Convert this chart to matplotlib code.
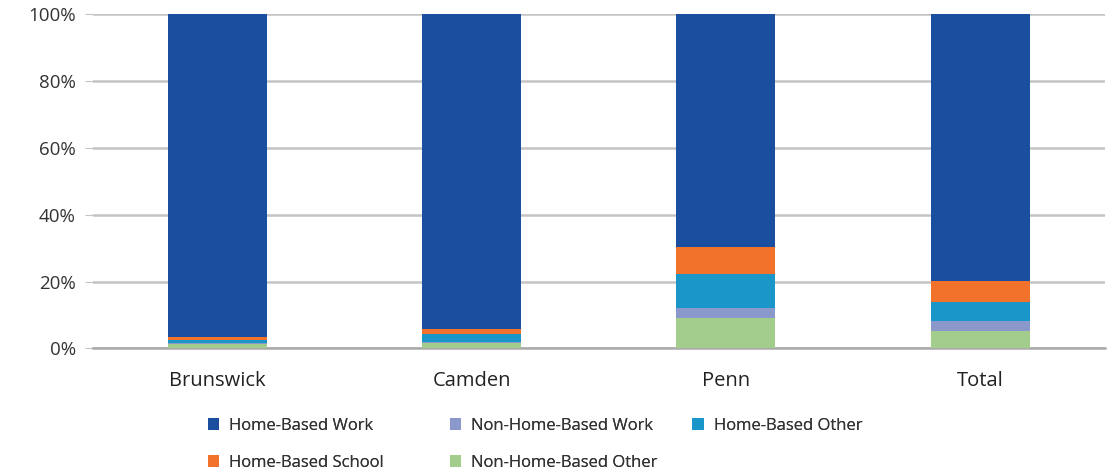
import numpy as np
import matplotlib
matplotlib.use('Agg')
import matplotlib.pyplot as plt
from matplotlib.ticker import PercentFormatter

plt.rcParams['font.family'] = ['Open Sans', 'DejaVu Sans']

categories = ['Brunswick', 'Camden', 'Penn', 'Total']

# shares in percent, bottom to top
nhb_other = [1.3, 1.6, 9.2, 5.3]
nhb_work = [0.3, 0.3, 2.9, 2.9]
hb_other = [1.0, 2.5, 10.1, 5.8]
hb_school = [0.9, 1.5, 8.2, 6.3]
hb_work = [96.5, 94.1, 69.6, 79.7]

series = [
    ('Non-Home-Based Other', nhb_other, '#a3cd8c'),
    ('Non-Home-Based Work', nhb_work, '#8b98cc'),
    ('Home-Based Other', hb_other, '#1a97c8'),
    ('Home-Based School', hb_school, '#f2722c'),
    ('Home-Based Work', hb_work, '#1a4fa0'),
]

fig, ax = plt.subplots(figsize=(11.16, 4.74), dpi=100)
fig.subplots_adjust(left=0.083, right=0.99, top=0.97, bottom=0.265)

x = np.arange(len(categories))
bottom = np.zeros(len(categories))
handles = {}
for name, vals, color in series:
    b = ax.bar(x, vals, 0.39, bottom=bottom, color=color, label=name, zorder=3)
    handles[name] = b
    bottom += np.array(vals)

ax.set_xlim(-0.49, 3.49)
ax.set_ylim(0, 100)
ax.set_yticks(np.arange(0, 101, 20))
ax.yaxis.set_major_formatter(PercentFormatter(decimals=0))
ax.grid(axis='y', color='#c4c4c4', linewidth=1.8, zorder=0)
ax.set_xticks(x)
ax.set_xticklabels(categories, fontsize=14.5, color='#222222')
ax.tick_params(axis='x', length=0, pad=16)
ax.tick_params(axis='y', labelsize=13.5, colors='#333333', length=6,
               color='#c4c4c4', pad=6)
for s in ['top', 'right', 'left']:
    ax.spines[s].set_visible(False)
ax.spines['bottom'].set_color('#aaaaaa')
ax.spines['bottom'].set_linewidth(1.8)

# legend laid out as three evenly spaced columns
columns = [
    (['Home-Based Work', 'Home-Based School'], 0.180),
    (['Non-Home-Based Work', 'Non-Home-Based Other'], 0.397),
    (['Home-Based Other'], 0.614),
]
for names, x0 in columns:
    leg = fig.legend([handles[n] for n in names], names, ncol=1,
                     loc='upper left', bbox_to_anchor=(x0, 0.132),
                     frameon=False, fontsize=12, handlelength=0.7,
                     handleheight=0.7, labelspacing=1.25,
                     handletextpad=0.6, borderaxespad=0)
    for t in leg.get_texts():
        t.set_color('#333333')
    fig.add_artist(leg)

plt.savefig('out.png', dpi=100)
plt.close()
